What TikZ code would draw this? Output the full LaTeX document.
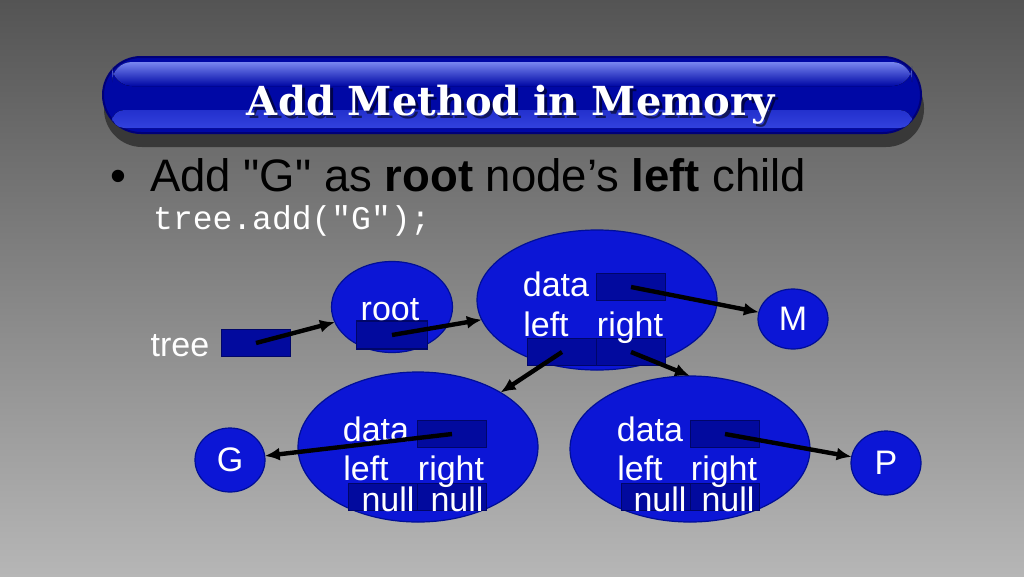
\documentclass[tikz,border=0pt]{standalone}
\usepackage{fontspec}
\setmainfont{Liberation Sans}
\setmonofont{Liberation Mono}
\newfontfamily\slabfont{DejaVu Serif}
\usetikzlibrary{arrows.meta,shapes.geometric}
\definecolor{bgtop}{RGB}{84,84,84}
\definecolor{bgbot}{RGB}{182,182,182}
\definecolor{cellfill}{RGB}{12,22,214}
\definecolor{cellline}{RGB}{0,14,150}
\definecolor{ptrfill}{RGB}{2,10,158}
\definecolor{ptrline}{RGB}{0,6,105}
\definecolor{bardark}{RGB}{0,8,165}
\definecolor{barline}{RGB}{0,0,120}
\definecolor{barlight}{RGB}{120,134,240}
\definecolor{barlow}{RGB}{50,66,222}

\begin{document}
\begin{tikzpicture}[x=1pt,y=-1pt,>={Latex[length=15pt,width=13pt]},
  cell/.style={ellipse,draw=cellline,line width=1.2pt,fill=cellfill,inner sep=0pt,outer sep=0pt},
  ptr/.style={rectangle,draw=ptrline,line width=1.2pt,fill=ptrfill,minimum width=69pt,minimum height=27pt,inner sep=0pt,outer sep=0pt},
  word/.style={text=white,anchor=base,inner sep=0pt,font=\fontsize{34}{36}\selectfont},
  headline/.style={anchor=base,inner sep=0pt,font=\slabfont\bfseries\fontsize{40}{44}\selectfont},
  link/.style={->,line width=4.4pt,black}]

  \fill[top color=bgtop,bottom color=bgbot] (0,0) rectangle (1024,576);
  \useasboundingbox (0,0) rectangle (1024,576);

  \fill[black!78,rounded corners=38pt] (104,70) rectangle (924,147);
  \draw[barline,line width=2pt,fill=bardark,rounded corners=38pt] (103,57) rectangle (921,133);
  \fill[rounded corners=20pt,top color=barlight,bottom color=bardark] (112,62) rectangle (912,86);
  \fill[rounded corners=12pt,top color=barlow!70!bardark,bottom color=barlow] (112,110) rectangle (912,128);
  \node[headline,text=black,opacity=.55] (titleshadow) at (514,118) {Add Method in Memory};
  \node[headline,text=white] (title) at (511,115) {Add Method in Memory};

  \node[anchor=base west,inner sep=0pt,font=\fontsize{45.5}{50}\selectfont] (dot) at (110,191) {•};
  \node[anchor=base west,inner sep=0pt,font=\fontsize{45.5}{50}\selectfont] (point) at (150,191)
    {Add \textquotedbl G\textquotedbl{} as \textbf{root} node’s \textbf{left} child};
  \node[anchor=base west,inner sep=0pt,text=white,font=\ttfamily\fontsize{33}{36}\selectfont] (code) at (153,229) {tree.add("G");};

  \node[cell,minimum width=121pt,minimum height=91pt] (root) at (392,307) {};
  \node[cell,minimum width=240pt,minimum height=140pt] (mnode) at (597,300) {};
  \node[cell,minimum width=240pt,minimum height=150pt] (gnode) at (418,447) {};
  \node[cell,minimum width=240pt,minimum height=146pt] (pnode) at (690,449) {};
  \node[cell,minimum width=70pt,minimum height=60pt] (M) at (793,319) {};
  \node[cell,minimum width=70pt,minimum height=64pt] (G) at (230,460) {};
  \node[cell,minimum width=70pt,minimum height=64pt] (P) at (886,463) {};

  \node[ptr] (treeptr) at (256,343) {};
  \node[ptr,minimum width=71pt,minimum height=28pt] (rootptr) at (392,335) {};
  \node[ptr] (mdata) at (631,287) {};
  \node[ptr] (mleft) at (562,352) {};
  \node[ptr] (mright) at (631,352) {};
  \node[ptr] (gdata) at (452,434) {};
  \node[ptr] (gleft) at (383,497) {};
  \node[ptr] (gright) at (452,497) {};
  \node[ptr] (pdata) at (725,434) {};
  \node[ptr] (pleft) at (656,497) {};
  \node[ptr] (pright) at (725,497) {};

  \node[word] (treetxt) at (180,356) {tree};
  \node[word] (roottxt) at (390,320) {root};
  \node[word] (mdatatxt) at (556,296) {data};
  \node[word] (mlefttxt) at (546,336) {left};
  \node[word] (mrighttxt) at (630,336) {right};
  \node[word] (gdatatxt) at (376,441) {data};
  \node[word] (glefttxt) at (366,480) {left};
  \node[word] (grighttxt) at (451,480) {right};
  \node[word] (gnull1) at (388,511) {null};
  \node[word] (gnull2) at (457,511) {null};
  \node[word] (pdatatxt) at (650,441) {data};
  \node[word] (plefttxt) at (640,480) {left};
  \node[word] (prighttxt) at (724,480) {right};
  \node[word] (pnull1) at (660,511) {null};
  \node[word] (pnull2) at (728,511) {null};
  \node[word,anchor=center] (Mtxt) at (M) {M};
  \node[word,anchor=center] (Gtxt) at (G) {G};
  \node[word,anchor=center] (Ptxt) at (P) {P};

  \path[link] (treeptr.center) edge (root)
        (rootptr.center) edge (mnode)
        (mdata.center) edge (M)
        (mleft.center) edge (gnode)
        (mright.center) edge (pnode.north)
        (gdata.center) edge (G)
        (pdata.center) edge (P);
\end{tikzpicture}
\end{document}
